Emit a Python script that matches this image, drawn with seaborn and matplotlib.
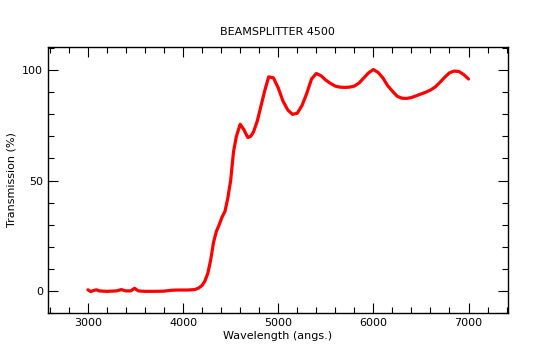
import numpy as np
import pandas as pd
import seaborn as sns
import matplotlib.pyplot as plt
from matplotlib.ticker import MultipleLocator

# Transmission curve
wavelength = [3000, 3030, 3060, 3090, 3120, 3200, 3300, 3350, 3400, 3450,
              3490, 3530, 3600, 3700, 3800, 3880, 3950, 4050, 4120, 4160,
              4200, 4230, 4260, 4290, 4320, 4350, 4380, 4410, 4440, 4470,
              4500, 4530, 4560, 4600, 4640, 4680, 4710, 4740, 4780, 4820,
              4860, 4900, 4950, 5000, 5050, 5100, 5150, 5200, 5250, 5300,
              5350, 5400, 5450, 5500, 5550, 5600, 5650, 5700, 5750, 5800,
              5850, 5900, 5950, 6000, 6050, 6100, 6150, 6200, 6250, 6300,
              6350, 6400, 6450, 6500, 6550, 6600, 6650, 6700, 6750, 6800,
              6850, 6900, 6950, 7000]
transmission = [0.5, -0.3, 0.2, 0.5, 0.0, -0.2, 0.0, 0.6, 0.0, 0.0,
                1.2, 0.0, -0.2, -0.2, -0.1, 0.3, 0.4, 0.4, 0.6, 1.2,
                2.5, 4.5, 8.0, 14.0, 22.0, 27.0, 30.0, 33.5, 36.0, 42.0,
                50.0, 63.0, 70.0, 75.5, 73.0, 69.5, 70.0, 72.0, 77.0, 84.0,
                91.0, 97.0, 96.5, 92.0, 86.0, 82.0, 80.0, 80.5, 84.0, 89.5,
                96.0, 98.5, 97.5, 95.5, 94.0, 92.8, 92.3, 92.2, 92.3, 92.8,
                94.2, 96.5, 98.8, 100.3, 99.0, 96.5, 93.0, 90.5, 88.2, 87.3,
                87.2, 87.6, 88.4, 89.2, 90.0, 91.0, 92.4, 94.5, 96.8, 98.8,
                99.6, 99.4, 98.0, 96.0]

df = pd.DataFrame({"wavelength": wavelength, "transmission": transmission})

sns.set_style("ticks")
plt.rcParams['font.family'] = ['DejaVu Sans']

fig = plt.figure(figsize=(5.56, 3.6), dpi=100)
ax = fig.add_axes([0.0863, 0.1306, 0.8265, 0.7388])

sns.lineplot(data=df, x="wavelength", y="transmission", ax=ax,
             color="#ff0000", linewidth=2.3)

ax.set_xlim(2580, 7410)
ax.set_ylim(-10, 110.5)
ax.xaxis.set_major_locator(MultipleLocator(1000))
ax.xaxis.set_minor_locator(MultipleLocator(200))
ax.yaxis.set_major_locator(MultipleLocator(50))
ax.yaxis.set_minor_locator(MultipleLocator(10))
ax.tick_params(which="both", direction="in", top=True, right=True,
               color="black", labelcolor="black", labelsize=8)
ax.tick_params(which="major", length=7, width=0.8)
ax.tick_params(which="minor", length=4, width=0.8)
for s in ax.spines.values():
    s.set_linewidth(1.0)
    s.set_color("black")

ax.set_xlabel("Wavelength (angs.)", fontsize=8, labelpad=2, color="black")
ax.set_ylabel("Transmission (%)", fontsize=8, labelpad=4, color="black")
ax.set_title("BEAMSPLITTER 4500", fontsize=8, pad=9, color="black")

fig.savefig("out.png", dpi=100)
